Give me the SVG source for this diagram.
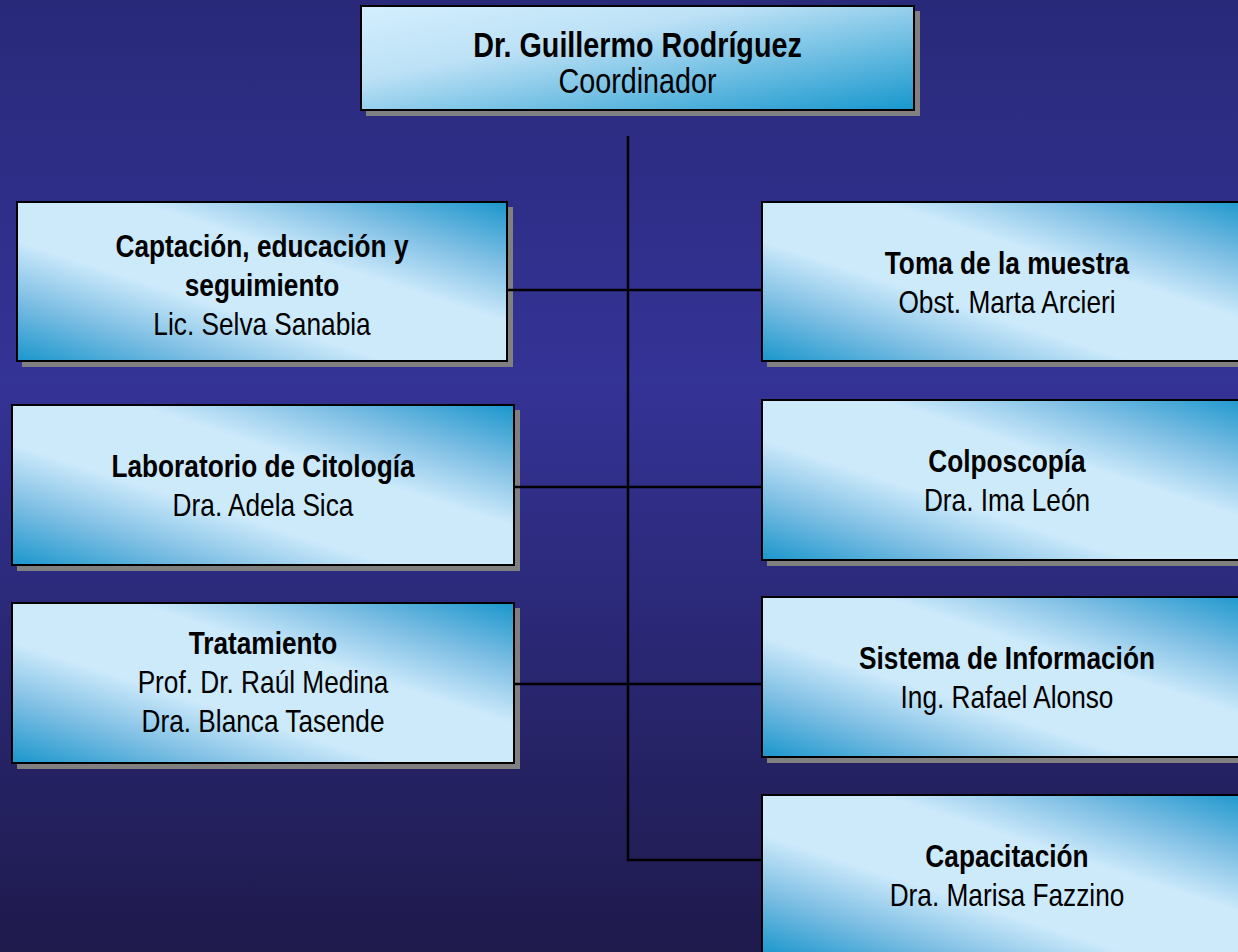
<svg xmlns="http://www.w3.org/2000/svg" width="1238" height="952" viewBox="0 0 1238 952">
<defs>
<linearGradient id="bg" x1="0" y1="0" x2="0" y2="1">
<stop offset="0" stop-color="#29297a"/>
<stop offset="0.4" stop-color="#343396"/>
<stop offset="1" stop-color="#1e1a4c"/>
</linearGradient>
<linearGradient id="gTop" x1="0" y1="0" x2="1" y2="1">
<stop offset="0" stop-color="#d3effe"/>
<stop offset="0.35" stop-color="#bde1f6"/>
<stop offset="1" stop-color="#1797cd"/>
</linearGradient>
<linearGradient id="gBox" x1="0" y1="1" x2="1" y2="0">
<stop offset="0" stop-color="#1a96cc"/>
<stop offset="0.2" stop-color="#7fbfe4"/>
<stop offset="0.38" stop-color="#cdeafb"/>
<stop offset="0.62" stop-color="#cdeafb"/>
<stop offset="0.8" stop-color="#7fbfe4"/>
<stop offset="1" stop-color="#1a96cc"/>
</linearGradient>
</defs>
<style>
.sh{fill:#808080}
.bx{fill:url(#gBox);stroke:#000;stroke-width:2}
.tp{fill:url(#gTop);stroke:#000;stroke-width:2}
text{font-family:"Liberation Sans Narrow","Arial Narrow","Liberation Sans",Arial,sans-serif;fill:#000;text-anchor:middle;font-size:32px}
.t{font-size:35px}
.b{font-weight:bold}
.ln{stroke:#000;stroke-width:2.5;fill:none}
</style>
<rect width="1238" height="952" fill="url(#bg)"/>
<g id="coordinador">
<rect class="sh" x="366" y="11" width="554" height="105"/>
<rect class="tp" x="361" y="6" width="553" height="104"/>
<g transform="matrix(0.82 0 0 1 637.5 0)">
<text class="t b" x="0" y="57">Dr. Guillermo Rodríguez</text>
<text class="t" x="0" y="93">Coordinador</text>
</g>
</g>
<g id="captacion">
<rect class="sh" x="22" y="207" width="491" height="160"/>
<rect class="bx" x="17" y="202" width="490" height="159"/>
<g transform="matrix(0.82 0 0 1 262 0)">
<text class="b" x="0" y="257">Captación, educación y</text>
<text class="b" x="0" y="296">seguimiento</text>
<text x="0" y="335">Lic. Selva Sanabia</text>
</g>
</g>
<g id="laboratorio">
<rect class="sh" x="17" y="410" width="503" height="161"/>
<rect class="bx" x="12" y="405" width="502" height="160"/>
<g transform="matrix(0.82 0 0 1 263 0)">
<text class="b" x="0" y="477">Laboratorio de Citología</text>
<text x="0" y="516">Dra. Adela Sica</text>
</g>
</g>
<g id="tratamiento">
<rect class="sh" x="17" y="608" width="503" height="161"/>
<rect class="bx" x="12" y="603" width="502" height="160"/>
<g transform="matrix(0.82 0 0 1 263 0)">
<text class="b" x="0" y="654">Tratamiento</text>
<text x="0" y="693">Prof. Dr. Raúl Medina</text>
<text x="0" y="732">Dra. Blanca Tasende</text>
</g>
</g>
<g id="toma">
<rect class="sh" x="767" y="207" width="491" height="160"/>
<rect class="bx" x="762" y="202" width="490" height="159"/>
<g transform="matrix(0.82 0 0 1 1007 0)">
<text class="b" x="0" y="274">Toma de la muestra</text>
<text x="0" y="313">Obst. Marta Arcieri</text>
</g>
</g>
<g id="colposcopia">
<rect class="sh" x="767" y="405" width="491" height="161"/>
<rect class="bx" x="762" y="400" width="490" height="160"/>
<g transform="matrix(0.82 0 0 1 1007 0)">
<text class="b" x="0" y="472">Colposcopía</text>
<text x="0" y="511">Dra. Ima León</text>
</g>
</g>
<g id="sistema">
<rect class="sh" x="767" y="602" width="491" height="161"/>
<rect class="bx" x="762" y="597" width="490" height="160"/>
<g transform="matrix(0.82 0 0 1 1007 0)">
<text class="b" x="0" y="669">Sistema de Información</text>
<text x="0" y="708">Ing. Rafael Alonso</text>
</g>
</g>
<g id="capacitacion">
<rect class="sh" x="767" y="800" width="491" height="161"/>
<rect class="bx" x="762" y="795" width="490" height="160"/>
<g transform="matrix(0.82 0 0 1 1007 0)">
<text class="b" x="0" y="867">Capacitación</text>
<text x="0" y="906">Dra. Marisa Fazzino</text>
</g>
</g>
<g id="connectors">
<path class="ln" d="M628 136V860H761"/>
<path class="ln" d="M508 290H761"/>
<path class="ln" d="M515 487H761"/>
<path class="ln" d="M515 684H761"/>
</g>
</svg>
